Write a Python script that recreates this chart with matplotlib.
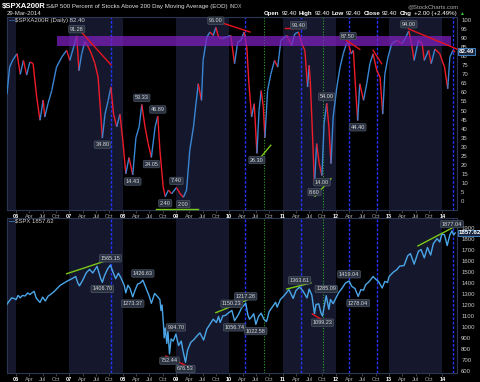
import matplotlib
matplotlib.use("Agg")
import numpy as np
import matplotlib.pyplot as plt
from matplotlib.collections import LineCollection

plt.rcParams['font.family'] = ['Liberation Sans', 'DejaVu Sans']

# percent of S&P 500 stocks above their 200 day average (decimal year, value)
pct_t = [2005.83, 2005.88, 2005.94, 2006.02, 2006.08, 2006.14, 2006.20, 2006.26, 2006.32, 2006.39,
         2006.45, 2006.51, 2006.54, 2006.60, 2006.67, 2006.76, 2006.86, 2006.95, 2007.01, 2007.08,
         2007.14, 2007.18, 2007.23, 2007.29, 2007.36, 2007.42, 2007.48, 2007.54, 2007.58, 2007.62,
         2007.67, 2007.73, 2007.78, 2007.83, 2007.89, 2007.95, 2008.01, 2008.06, 2008.12, 2008.19,
         2008.25, 2008.31, 2008.36, 2008.42, 2008.48, 2008.54, 2008.61, 2008.66, 2008.70, 2008.76,
         2008.80, 2008.86, 2008.92, 2009.01, 2009.08, 2009.14, 2009.20, 2009.26, 2009.33, 2009.37,
         2009.42, 2009.48, 2009.51, 2009.58, 2009.64, 2009.70, 2009.75, 2009.80, 2009.86, 2009.95,
         2010.03, 2010.10, 2010.16, 2010.22, 2010.28, 2010.33, 2010.37, 2010.42, 2010.47, 2010.52,
         2010.56, 2010.60, 2010.64, 2010.67, 2010.72, 2010.78, 2010.85, 2010.91, 2010.97, 2011.08,
         2011.17, 2011.23, 2011.30, 2011.36, 2011.42, 2011.47, 2011.50, 2011.52, 2011.55, 2011.60,
         2011.64, 2011.69, 2011.74, 2011.78, 2011.83, 2011.87, 2011.91, 2011.95, 2012.02, 2012.08,
         2012.14, 2012.20, 2012.23, 2012.29, 2012.33, 2012.37, 2012.41, 2012.45, 2012.52, 2012.58,
         2012.64, 2012.70, 2012.77, 2012.83, 2012.88, 2012.92, 2012.98, 2013.05, 2013.14, 2013.24,
         2013.30, 2013.37, 2013.42, 2013.47, 2013.55, 2013.62, 2013.66, 2013.74, 2013.79, 2013.86,
         2013.95, 2014.04, 2014.10, 2014.14, 2014.20, 2014.24]
pct_v = [59, 74, 78, 81.4, 70, 77.7, 69.6, 76.8, 76, 57,
         44.6, 55.8, 46.4, 53.8, 61, 74, 79.6, 83.3, 77.7, 85,
         91.28, 72, 81, 88, 85, 81, 76, 68.5, 52, 34.8,
         48, 55.6, 63, 48, 41, 48, 31.7, 15, 24, 14.43,
         35, 41, 53.33, 41, 31.7, 24.05, 41, 46.89, 28, 8,
         2.4, 6, 4, 7.4, 4, 2.0, 6, 28, 41, 52,
         64.8, 55.6, 77.7, 90.6, 93.4, 91.5, 96.0, 90.6, 89.7, 90.6,
         91.5, 75.9, 87.8, 88.8, 93.4, 85, 64.8, 46.4, 53.8, 26.3,
         50, 61, 52, 35, 61, 70, 77.7, 74, 88.8, 91.5,
         86, 92.4, 93.4, 87, 83.3, 63, 75, 66.7, 46, 8.6,
         31.7, 20.6, 14.0, 42.7, 54.0, 41, 20.6, 46.4, 63, 74,
         81.4, 87, 87.5, 81.4, 83.3, 63, 44.4, 64.8, 55.6, 64.8,
         75.9, 81.4, 72, 68.5, 48, 70, 79.6, 87, 88.8, 87,
         89.7, 94.0, 87, 77.7, 88.8, 87, 77.7, 83.3, 75.9, 84,
         81.4, 74, 62, 79.6, 83.3, 82.4]

# S&P 500 (decimal year, close)
spx_t = [2005.83, 2005.87, 2005.92, 2005.97, 2006.00, 2006.04, 2006.08, 2006.12, 2006.17, 2006.22,
         2006.26, 2006.30, 2006.34, 2006.38, 2006.45, 2006.50, 2006.55, 2006.60, 2006.66, 2006.72,
         2006.77, 2006.83, 2006.90, 2006.96, 2007.05, 2007.12, 2007.16, 2007.19, 2007.25, 2007.32,
         2007.38, 2007.44, 2007.52, 2007.56, 2007.59, 2007.62, 2007.66, 2007.72, 2007.77, 2007.82,
         2007.87, 2007.92, 2007.97, 2008.03, 2008.06, 2008.10, 2008.14, 2008.19, 2008.23, 2008.28,
         2008.33, 2008.38, 2008.45, 2008.50, 2008.54, 2008.60, 2008.65, 2008.70, 2008.72, 2008.74,
         2008.77, 2008.78, 2008.80, 2008.83, 2008.85, 2008.88, 2008.91, 2008.95, 2009.00, 2009.05,
         2009.10, 2009.13, 2009.18, 2009.22, 2009.28, 2009.33, 2009.40, 2009.45, 2009.52, 2009.58,
         2009.62, 2009.70, 2009.76, 2009.80, 2009.83, 2009.88, 2009.93, 2009.98, 2010.05, 2010.10,
         2010.17, 2010.23, 2010.31, 2010.35, 2010.38, 2010.42, 2010.46, 2010.50, 2010.55, 2010.60,
         2010.65, 2010.70, 2010.75, 2010.80, 2010.87, 2010.90, 2010.96, 2011.03, 2011.12, 2011.20,
         2011.25, 2011.32, 2011.38, 2011.46, 2011.50, 2011.55, 2011.60, 2011.63, 2011.68, 2011.72,
         2011.75, 2011.82, 2011.87, 2011.90, 2011.95, 2012.00, 2012.05, 2012.12, 2012.18, 2012.25,
         2012.30, 2012.36, 2012.42, 2012.47, 2012.52, 2012.56, 2012.62, 2012.70, 2012.75, 2012.80,
         2012.87, 2012.92, 2012.97, 2013.00, 2013.08, 2013.14, 2013.20, 2013.28, 2013.35, 2013.40,
         2013.47, 2013.55, 2013.60, 2013.66, 2013.72, 2013.78, 2013.83, 2013.90, 2013.95, 2013.99,
         2014.04, 2014.09, 2014.14, 2014.18, 2014.21, 2014.24]
spx_v = [1207, 1235, 1265, 1258, 1248, 1288, 1265, 1287, 1282, 1310,
         1295, 1311, 1325, 1262, 1223, 1272, 1236, 1280, 1300, 1325,
         1350, 1380, 1400, 1418, 1440, 1460, 1400, 1375, 1425, 1495,
         1525, 1492, 1553, 1490, 1440, 1406.7, 1468, 1530, 1565.15, 1500,
         1440, 1490, 1447, 1380, 1310, 1380, 1350, 1273.37, 1330, 1390,
         1400, 1426.63, 1340, 1280, 1215, 1305, 1280, 1250, 1150, 1200,
         1000, 900, 990, 848, 968, 752.44, 890, 870, 934.7, 830,
         870, 790, 676.53, 790, 860, 880, 920, 945, 880, 980,
         1010, 1070, 1040, 1095, 1040, 1100, 1105, 1125, 1150.23, 1056.74,
         1110, 1170, 1217.28, 1110, 1070, 1090, 1120, 1022.58, 1095, 1125,
         1070, 1048, 1140, 1175, 1225, 1180, 1250, 1285, 1340, 1260,
         1330, 1363.61, 1330, 1265, 1345, 1290, 1120, 1205, 1210, 1130,
         1099.23, 1285.09, 1160, 1250, 1212, 1260, 1310, 1355, 1400, 1419.04,
         1370, 1350, 1278.04, 1340, 1335, 1385, 1410, 1460, 1435, 1415,
         1355, 1415, 1405, 1460, 1500, 1520, 1555, 1560, 1650, 1669,
         1573, 1690, 1706, 1630, 1725, 1656, 1760, 1805, 1775, 1848,
         1840, 1742, 1840, 1877.04, 1840, 1857.62]

# labelled peaks (True) and troughs (False)
pct_lab_t = [2007.14, 2007.62, 2008.19, 2008.36, 2008.54, 2008.66, 2008.80, 2009.01, 2009.14, 2009.75,
             2010.52, 2011.30, 2011.60, 2011.74, 2011.83, 2012.23, 2012.41, 2013.37]
pct_lab_v = [91.28, 34.80, 14.43, 53.33, 24.05, 46.89, 2.40, 7.40, 2.00, 96.00,
             26.30, 93.40, 8.60, 14.00, 54.00, 87.50, 44.40, 94.00]
pct_lab_hi = [True, False, False, True, False, True, False, True, False, True,
              False, True, False, False, True, True, False, True]
spx_lab_t = [2007.77, 2007.62, 2008.38, 2008.19, 2009.00, 2008.88, 2009.18, 2010.05, 2010.10, 2010.31,
             2010.50, 2011.32, 2011.82, 2011.75, 2012.25, 2012.42, 2014.18]
spx_lab_v = [1565.15, 1406.70, 1426.63, 1273.37, 934.70, 752.44, 676.53, 1150.23, 1056.74, 1217.28,
             1022.58, 1363.61, 1285.09, 1099.23, 1419.04, 1278.04, 1877.04]
spx_lab_hi = [True, False, True, False, True, False, False, True, False, True,
              False, True, True, False, True, False, True]

# analyst marks
blue_lines = [2007.777, 2010.302, 2011.341, 2012.242, 2012.767, 2014.205]
green_lines = [2010.659, 2011.765]
band_x = [2006.77, 2014.16]
band_lo, band_hi = 85.8, 91.2
pct_red = [((2007.17, 95.2), (2007.78, 75.3)), ((2009.765, 99.4), (2010.39, 93.4)),
           ((2011.047, 95.6), (2011.33, 95.6)), ((2012.2, 88.8), (2012.45, 83.8)),
           ((2012.70, 83.3), (2012.86, 75.9)), ((2013.36, 95.2), (2014.27, 84.0))]
pct_green = [((2010.516, 21.5), (2010.78, 30.8)), ((2011.61, 2.6), (2011.91, 12.3)),
             ((2008.62, -4.4), (2009.42, -4.4))]
spx_red = [((2008.81, 734), (2009.23, 637)), ((2011.56, 1118), (2011.80, 1047))]
spx_green = [((2006.95, 1485), (2007.79, 1620)), ((2009.75, 1130), (2010.33, 1243)),
             ((2011.08, 1346), (2011.535, 1401)), ((2013.54, 1739), (2014.27, 1925))]

W, H = 480, 382
fig = plt.figure(figsize=(4.8, 3.82), dpi=100, facecolor='black')


def box(l, t, r, b):
    return [l / W, 1 - b / H, (r - l) / W, (b - t) / H]


ax1 = fig.add_axes(box(7, 17, 457, 210))
ax2 = fig.add_axes(box(7, 218, 457, 373))

ticks, tlabels = [], []
for yr in range(2006, 2015):
    ticks.append(yr)
    tlabels.append('%02d' % (yr % 100))
    if yr < 2014:
        for k, m in ((0.25, 'Apr'), (0.5, 'Jul'), (0.75, 'Oct')):
            ticks.append(yr + k)
            tlabels.append(m)

for ax in (ax1, ax2):
    ax.set_facecolor('black')
    ax.set_xlim(2005.831, 2014.274)
    for y0 in range(2005, 2015, 2):
        ax.axvspan(y0, y0 + 1, color='#15182c', lw=0, zorder=0)
    for s in ax.spines.values():
        s.set_color('#2b3752')
        s.set_linewidth(0.8)
    ax.yaxis.tick_right()
    ax.tick_params(axis='y', length=0, pad=3, labelsize=4.3, labelcolor='#c8c8c8')
    ax.tick_params(axis='x', length=2, width=0.5, color='#555555', pad=1.2,
                   labelsize=4.0, labelcolor='#a8a8a8')
    ax.set_xticks(ticks)
    ax.set_xticklabels(tlabels)
    for lbl in ax.get_xticklabels():
        if lbl.get_text()[0].isdigit():
            lbl.set_fontweight('bold')
            lbl.set_color('white')
    for d in blue_lines:
        ax.axvline(d, color='#2233ff', lw=1.0, ls=(0, (2, 1.2)), zorder=1)
    for d in green_lines:
        ax.axvline(d, color='#2ca02c', lw=0.8, ls=(0, (1, 1.5)), zorder=1)

# top panel
ax1.set_ylim(-5.0, 101.7)
ax1.set_yticks(range(0, 101, 5))
t = np.array(pct_t)
v = np.array(pct_v)
pts = np.column_stack([t, v]).reshape(-1, 1, 2)
segs = np.concatenate([pts[:-1], pts[1:]], axis=1)
cols = np.where(np.diff(v) >= 0, '#3a86d4', '#f01c2a')
ax1.add_collection(LineCollection(segs, colors=cols, linewidths=1.0, zorder=3))
ax1.fill_between(band_x, band_lo, band_hi, color='#7e1fc0', alpha=0.72, lw=0, zorder=4)
for (a, b) in pct_red:
    ax1.plot([a[0], b[0]], [a[1], b[1]], color='#e8141e', lw=1.0, zorder=5, clip_on=False)
for (a, b) in pct_green:
    ax1.plot([a[0], b[0]], [a[1], b[1]], color='#7ac818', lw=1.0, zorder=5, clip_on=False)

# bottom panel
ax2.set_ylim(579, 1994)
ax2.set_yticks(range(600, 1901, 100))
ax2.plot(spx_t, spx_v, color='#4aa6e8', lw=1.0, zorder=3)
for (a, b) in spx_red:
    ax2.plot([a[0], b[0]], [a[1], b[1]], color='#e8141e', lw=1.0, zorder=5)
for (a, b) in spx_green:
    ax2.plot([a[0], b[0]], [a[1], b[1]], color='#7ac818', lw=1.0, zorder=5, clip_on=False)


def tag(ax, x, y, hi):
    ax.annotate('%.2f' % y, xy=(x, y), xytext=(0, 3 if hi else -3), textcoords='offset points',
                ha='center', va='bottom' if hi else 'top', fontsize=4.0, color='#d8d8d8',
                bbox=dict(boxstyle='round,pad=0.22', fc='#2a3242', ec='#55606e', lw=0.4),
                zorder=6, annotation_clip=False)


for x, y, hi in zip(pct_lab_t, pct_lab_v, pct_lab_hi):
    tag(ax1, x, y, hi)
for x, y, hi in zip(spx_lab_t, spx_lab_v, spx_lab_hi):
    tag(ax2, x, y, hi)

# last value boxes on the right axis
for ax, val in ((ax1, pct_v[-1]), (ax2, spx_v[-1])):
    ax.annotate('%.2f' % val, xy=(1.0, val), xycoords=('axes fraction', 'data'),
                xytext=(1.5, 0), textcoords='offset points', ha='left', va='center',
                fontsize=4.4, fontweight='bold', color='white', zorder=7,
                bbox=dict(boxstyle='square,pad=0.15', fc='#1a2740', ec='#4a90d8', lw=0.6),
                annotation_clip=False)


def ptxt(x, y, s, **kw):
    return fig.text(x / W, 1 - y / H, s, va='center', **kw)


# header
ptxt(2, 6.5, '$SPXA200R', fontsize=5.6, fontweight='bold', color='white')
ptxt(46, 6.5, 'S&P 500 Percent of Stocks Above 200 Day Moving Average (EOD)', fontsize=4.4, color='#e0e0e0')
ptxt(229, 6.5, 'INDX', fontsize=3.8, color='#c0c0c0')
ptxt(458, 6.5, '@StockCharts.com', fontsize=4.2, color='#b0b0b0', ha='right')
ptxt(7, 13.5, '29-Mar-2014', fontsize=4.3, color='#e0e0e0')

r = fig.canvas.get_renderer()
items = [('Open', 'bold'), ('92.40', 'normal'), ('High', 'bold'), ('92.40', 'normal'),
         ('Low', 'bold'), ('92.40', 'normal'), ('Close', 'bold'), ('92.40', 'normal'),
         ('Chg', 'bold'), ('+2.00 (+2.49%)', 'normal')]
xx = 264
for s, w in items:
    tx = ptxt(xx, 13.5, s, fontsize=4.4, fontweight=w, color='white')
    xx += tx.get_window_extent(r).width + 2
ptxt(xx + 1, 13.5, '\u25b2', fontsize=3.5, color='#33cc33')

# panel legends
ptxt(9, 20.5, '\u2014', fontsize=4.5, color='#3a86d4', fontweight='bold')
ptxt(15, 20.5, '$SPXA200R (Daily) 82.40', fontsize=4.3, color='#d0d0d0')
ptxt(9, 221.5, '\u2014', fontsize=4.5, color='#4aa6e8', fontweight='bold')
ptxt(15, 221.5, '$SPX 1857.62', fontsize=4.3, color='#d0d0d0')

fig.savefig('out.png', dpi=100, facecolor='black')
